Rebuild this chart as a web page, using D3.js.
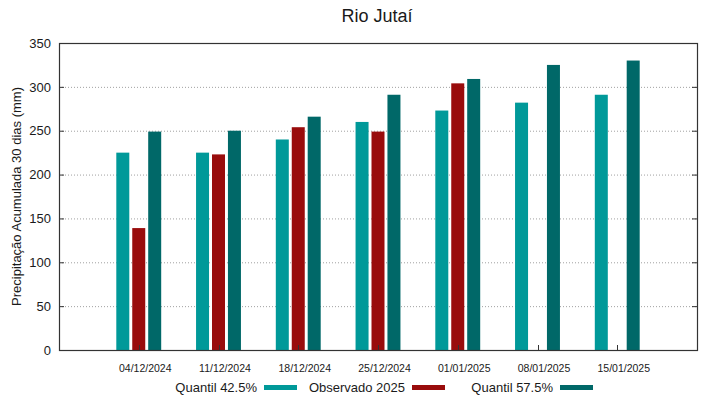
<!DOCTYPE html>
<html>
<head>
<meta charset="utf-8">
<script src="https://cdn.jsdelivr.net/npm/d3@7"></script>
<style>
  body { margin: 0; background: #fff; }
  text { font-family: "Liberation Sans", Arial, sans-serif; fill: #1a1a1a; }
</style>
</head>
<body>
<div class="chart"></div>
<script>
// data
var dates = ["04/12/2024", "11/12/2024", "18/12/2024", "25/12/2024", "01/01/2025", "08/01/2025", "15/01/2025"];
var q425 = [225, 225, 240, 260, 273, 282, 291];
var observado = [139, 223, 254, 249, 304, null, null];
var q575 = [249, 250, 266, 291, 309, 325, 330];
var yTicks = [0, 50, 100, 150, 200, 250, 300, 350];

var seriesNames = ["Quantil 42.5%", "Observado 2025", "Quantil 57.5%"];
var colors = ["#009999", "#990c0c", "#006868"];
var series = [q425, observado, q575];

var W = 719, H = 399;
var margin = {top: 43, right: 22, bottom: 49, left: 59};
var w = W - margin.left - margin.right,
    h = H - margin.top - margin.bottom;

var svg = d3.select(".chart").append("svg")
  .attr("width", W)
  .attr("height", H);

// group index scale, gnuplot style range -1..n
var x = d3.scaleLinear().domain([-1, dates.length]).range([0, w]);
var y = d3.scaleLinear().domain([0, 350]).range([h, 0]);

var g = svg.append("g")
  .attr("transform", "translate(" + margin.left + "," + margin.top + ")");

// grid
g.selectAll(".grid").data(yTicks.filter(function(d) { return d > 0 && d < 350; }))
  .enter().append("line")
  .attr("x1", 0).attr("x2", w)
  .attr("y1", function(d) { return y(d) + 0.5; })
  .attr("y2", function(d) { return y(d) + 0.5; })
  .attr("stroke", "#a0a0a0")
  .attr("stroke-width", 1)
  .attr("stroke-dasharray", "1,2");

// bars
var slot = 0.2, bw = 0.163;
series.forEach(function(vals, s) {
  g.selectAll(".bar" + s).data(vals.map(function(v, i) { return {i: i, v: v}; })
      .filter(function(d) { return d.v != null; }))
    .enter().append("rect")
    .attr("x", function(d) { return x(d.i + (s - 1) * slot - bw / 2); })
    .attr("width", x(bw) - x(0))
    .attr("y", function(d) { return y(d.v); })
    .attr("height", function(d) { return h - y(d.v); })
    .attr("fill", colors[s]);
});

// x ticks (inside)
g.selectAll(".xt").data(dates).enter().append("line")
  .attr("x1", function(d, i) { return Math.round(x(i)) + 0.5; })
  .attr("x2", function(d, i) { return Math.round(x(i)) + 0.5; })
  .attr("y1", h).attr("y2", h - 5)
  .attr("stroke", "#333");

// y ticks, both sides inside
g.selectAll(".ytl").data(yTicks).enter().append("line")
  .attr("x1", 0).attr("x2", 5)
  .attr("y1", function(d) { return y(d) + 0.5; })
  .attr("y2", function(d) { return y(d) + 0.5; })
  .attr("stroke", "#333");
g.selectAll(".ytr").data(yTicks).enter().append("line")
  .attr("x1", w - 5).attr("x2", w)
  .attr("y1", function(d) { return y(d) + 0.5; })
  .attr("y2", function(d) { return y(d) + 0.5; })
  .attr("stroke", "#333");

// frame
g.append("rect")
  .attr("x", 0.5).attr("y", 0.5)
  .attr("width", w).attr("height", h)
  .attr("fill", "none")
  .attr("stroke", "#333")
  .attr("stroke-width", 1.2);

// y tick labels
g.selectAll(".yl").data(yTicks).enter().append("text")
  .attr("x", -8)
  .attr("y", function(d) { return y(d); })
  .attr("dy", "0.36em")
  .attr("text-anchor", "end")
  .style("font-size", "13px")
  .text(function(d) { return d; });

// x tick labels (offset right like the original)
g.selectAll(".xl").data(dates).enter().append("text")
  .attr("x", function(d, i) { return x(i) + 6.5; })
  .attr("y", h + 22)
  .attr("text-anchor", "middle")
  .style("font-size", "10.5px")
  .text(function(d) { return d; });

// title
svg.append("text")
  .attr("x", 377).attr("y", 22)
  .attr("text-anchor", "middle")
  .style("font-size", "18px")
  .text("Rio Jutaí");

// y axis label
svg.append("text")
  .attr("transform", "translate(21," + (margin.top + h / 2) + ") rotate(-90)")
  .attr("text-anchor", "middle")
  .style("font-size", "13px")
  .text("Precipitação Acumulada 30 dias (mm)");

// legend
var legX = [257, 405, 553];
var leg = svg.selectAll(".leg").data(seriesNames).enter().append("g");
leg.append("text")
  .attr("x", function(d, i) { return legX[i]; })
  .attr("y", 392)
  .attr("text-anchor", "end")
  .style("font-size", "13px")
  .text(function(d) { return d; });
leg.append("rect")
  .attr("x", function(d, i) { return legX[i] + 7; })
  .attr("y", 385)
  .attr("width", 33).attr("height", 5)
  .attr("fill", function(d, i) { return colors[i]; });
</script>
</body>
</html>
